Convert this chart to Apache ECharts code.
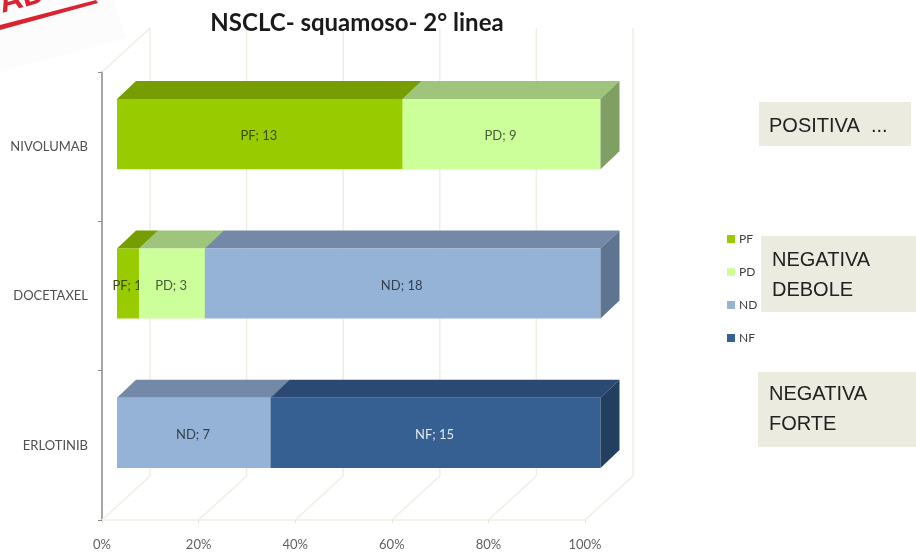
<!DOCTYPE html>
<html><head><meta charset="utf-8">
<style>html,body{margin:0;padding:0;background:#fff}#c{width:916px;height:553px;filter:blur(0.45px)}</style>
<script src="https://cdn.jsdelivr.net/npm/echarts@6/dist/echarts.min.js"></script>
</head><body><div id="c"></div>
<script>
const categories = ['NIVOLUMAB', 'DOCETAXEL', 'ERLOTINIB'];
const seriesNames = ['PF', 'PD', 'ND', 'NF'];
const PF = [13, 1, 0];
const PD = [9, 3, 0];
const ND = [0, 18, 7];
const NF = [0, 0, 15];
const tickValues = [0, 20, 40, 60, 80, 100];
const notes = ['POSITIVA  ...', 'NEGATIVA\nDEBOLE', 'NEGATIVA\nFORTE'];

const values = [PF, PD, ND, NF];
const faces = {
  PF: ['#99cc00', '#779e00', '#6f9400'],
  PD: ['#ccff99', '#9fc47c', '#7f9f63'],
  ND: ['#95b3d7', '#7489a7', '#5f7490'],
  NF: ['#366092', '#2a4a74', '#223f60']
};
const labelColors = { PF: '#3c4a10', PD: '#4a5a3a', ND: '#33404f', NF: '#dfe7f2' };
const FONT = 'Lato, "Open Sans", sans-serif';
const front = { dx: 15, dy: -12.5 };
const depth = { dx: 19, dy: -18 };
const wall = { dx: 48, dy: -44 };

const totals = categories.map((_, c) => values.reduce((s, v) => s + v[c], 0));

function segments(si) {
  const out = [];
  categories.forEach((_, c) => {
    const raw = values[si][c];
    if (!raw) return;
    let before = 0;
    for (let k = 0; k < si; k++) before += values[k][c];
    out.push([before / totals[c] * 100, (before + raw) / totals[c] * 100, c, raw]);
  });
  return out;
}

function barRender(name) {
  return function (params, api) {
    const [c0, c1, side] = faces[name];
    const a = api.coord([api.value(0), api.value(2)]);
    const b = api.coord([api.value(1), api.value(2)]);
    const h = api.size([0, 1])[1] * 0.47;
    const x0 = a[0] + front.dx, x1 = b[0] + front.dx + 0.5;
    const yT = a[1] + front.dy - h / 2, yB = yT + h;
    const ch = [
      { type: 'polygon', shape: { points: [[x0, yT], [x0 + depth.dx, yT + depth.dy], [x1 + depth.dx, yT + depth.dy], [x1, yT]] }, style: { fill: c1 } },
      { type: 'rect', shape: { x: x0, y: yT, width: x1 - x0, height: h }, style: { fill: c0 } }
    ];
    if (api.value(1) >= 99.99) {
      ch.push({ type: 'polygon', shape: { points: [[x1, yT], [x1 + depth.dx, yT + depth.dy], [x1 + depth.dx, yB + depth.dy], [x1, yB]] }, style: { fill: side } });
    }
    ch.push({ type: 'text', z2: 10, style: { x: (x0 + x1) / 2 - 1, y: (yT + yB) / 2 + 2, text: name + '; ' + api.value(3), align: 'center', verticalAlign: 'middle', fill: labelColors[name], font: '13px ' + FONT } });
    return { type: 'group', children: ch };
  };
}

function wallRender(params, api) {
  const g = params.coordSys;
  const x = api.coord([api.value(0), 0])[0];
  const yB = g.y + g.height;
  const st = { stroke: '#efefe6', lineWidth: 1.5, fill: null };
  const ch = [
    { type: 'line', shape: { x1: x, y1: yB, x2: x + wall.dx, y2: yB + wall.dy }, style: st },
    { type: 'line', shape: { x1: x + wall.dx, y1: yB + wall.dy, x2: x + wall.dx, y2: g.y + wall.dy }, style: st }
  ];
  if (api.value(0) === 0) {
    ch.push({ type: 'line', shape: { x1: x, y1: g.y, x2: x + wall.dx, y2: g.y + wall.dy }, style: st });
  }
  return { type: 'group', children: ch };
}

function noteBox(text, x, y, w, h, tx, ty) {
  return {
    type: 'group', children: [
      { type: 'rect', shape: { x, y, width: w, height: h }, style: { fill: '#ecebe0' }, z: 1 },
      { type: 'text', x: tx, y: ty, z: 2, style: { text, fill: '#222222', font: '20px "Liberation Sans", Arial, sans-serif', lineHeight: 30, verticalAlign: 'top' } }
    ]
  };
}

const chart = echarts.init(document.getElementById('c'), null, { renderer: 'canvas' });
chart.setOption({
  animation: false,
  backgroundColor: '#ffffff',
  title: {
    text: 'NSCLC- squamoso- 2\u00b0 linea', left: 352, top: 6, textAlign: 'center',
    textStyle: { fontFamily: FONT, fontSize: 24, fontWeight: 'bold', color: '#1a1a1a' }
  },
  grid: { left: 102, top: 72, width: 483, height: 448, containLabel: false },
  legend: {
    data: seriesNames, orient: 'vertical', left: 722, top: 228, itemWidth: 8, itemHeight: 8, itemGap: 21,
    selectedMode: false, z: 20, icon: 'rect',
    textStyle: { fontFamily: FONT, fontSize: 12, color: '#404040', padding: [0, 0, 0, -1] }
  },
  xAxis: {
    type: 'value', min: 0, max: 100, interval: 20,
    axisLine: { show: true, lineStyle: { color: '#efefe6', width: 1.5 } },
    axisTick: { show: true, length: 3, lineStyle: { color: '#e3e3da' } },
    splitLine: { show: false },
    axisLabel: { formatter: '{value}%', color: '#606060', fontFamily: FONT, fontSize: 13, margin: 18 }
  },
  yAxis: {
    type: 'category', data: categories, inverse: true,
    axisLine: { show: true, lineStyle: { color: '#a6a6a6', width: 2 } },
    axisTick: { show: true, length: 4, alignWithLabel: false, lineStyle: { color: '#8c8c8c' } },
    axisLabel: { color: '#505050', fontFamily: FONT, fontSize: 13, margin: 14, padding: [4, 0, 0, 0] }
  },
  series: [
    { type: 'custom', name: 'wall', data: tickValues.map(v => [v]), encode: { x: 0 }, renderItem: wallRender, clip: false, silent: true, z: 1 },
    ...seriesNames.map((n, i) => ({
      type: 'custom', name: n, data: segments(i), encode: { x: [0, 1], y: 2 },
      renderItem: barRender(n), clip: false, z: 3 + i, itemStyle: { color: faces[n][0] }
    }))
  ],
  graphic: [
    { type: 'polygon', shape: { points: [[0, 72], [126, 38], [113, 0], [0, 0]] }, style: { fill: '#fcfcfc' }, z: 0 },
    { type: 'polygon', shape: { points: [[0, 25], [96, 0], [98, 3], [0, 30]] }, style: { fill: '#d9232e' }, z: 1 },
    { type: 'text', x: 4, y: 20, rotation: 0.27, z: 1, style: { text: 'ADD', fill: '#d9232e', font: 'bold 32px "Liberation Sans", sans-serif', verticalAlign: 'bottom' } },
    noteBox(notes[0], 759, 102, 152, 44, 769, 111),
    noteBox(notes[1], 761, 236, 155, 76, 772, 245),
    noteBox(notes[2], 758, 372, 158, 75, 769, 379)
  ]
});
</script></body></html>
